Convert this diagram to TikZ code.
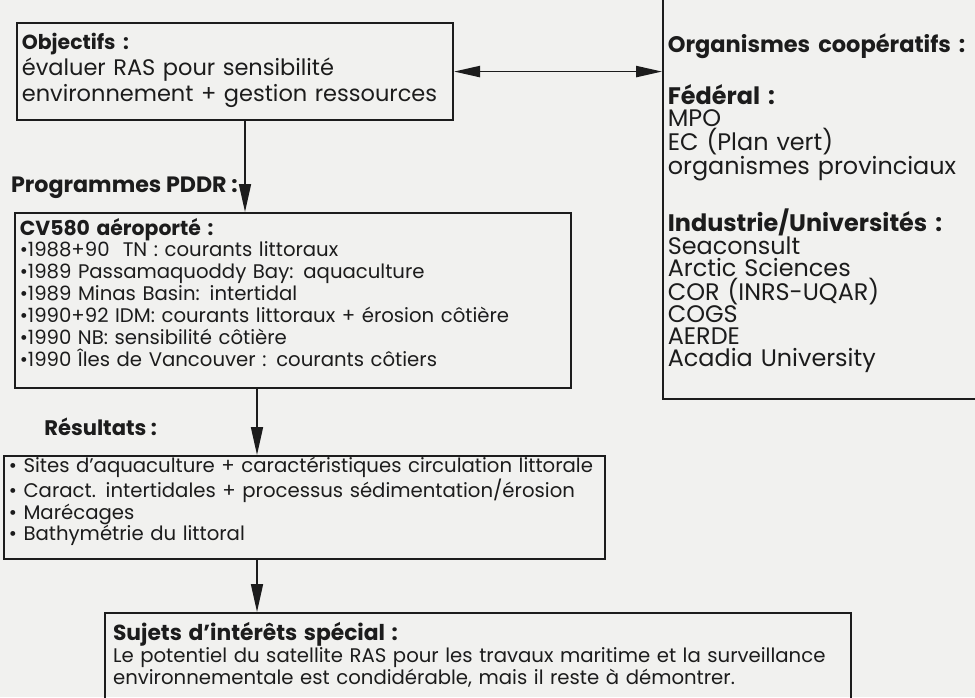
\documentclass[tikz,border=0pt]{standalone}
\usepackage{fontspec}
\setmainfont{Poppins}
\usetikzlibrary{arrows.meta}
\definecolor{paper}{RGB}{241,241,239}
\definecolor{ink}{RGB}{28,28,28}
\tikzset{
  box/.style={draw=ink,text=ink,line width=1.5pt,anchor=north west,align=left,inner xsep=.12cm,inner ysep=0pt},
  arr/.style={draw=ink,line width=1.2pt,-{Triangle[length=.7cm,width=.3cm]}},
  arrboth/.style={draw=ink,line width=1.2pt,{Triangle[length=.65cm,width=.28cm]}-{Triangle[length=.65cm,width=.28cm]}},
  lbl/.style={text=ink,inner sep=0pt,font=\bfseries},
}
\begin{document}
\begin{tikzpicture}
  \fill[paper] (0,0) rectangle (24.375,-17.425);
  \useasboundingbox (0,0) rectangle (24.375,-17.425);
  \node[box,text width=10.66cm,text height=.65cm,text depth=1.775cm,font=\fontsize{16}{18.5}\selectfont] (obj) at (.4,-.55)
  {\textbf{\fontsize{14.5}{18.5}\selectfont Objectifs :}\\évaluer RAS pour sensibilité\\environnement + gestion ressources};
  \node[box,text width=8.08cm,text height=1.575cm,text depth=8.675cm,font=\fontsize{17}{15.6}\selectfont] (org) at (16.55,.3)
  {\textbf{\fontsize{16}{15.6}\selectfont Organismes coopératifs :}\\[.62cm]
   \textbf{Fédéral :}\\MPO\\EC (Plan vert)\\organismes provinciaux\\[.66cm]
   \textbf{Industrie/Universités :}\\Seaconsult\\Arctic Sciences\\COR (INRS-UQAR)\\COGS\\AERDE\\Acadia University};
  \node[lbl,anchor=east,font=\bfseries\fontsize{15.8}{18}\selectfont] (prog) at (5.95,-4.7) {Programmes PDDR :};
  \node[box,text width=13.66cm,text height=.55cm,text depth=3.825cm,font=\fontsize{14}{15.6}\selectfont] (cv) at (.35,-5.3)
  {\textbf{\fontsize{14.5}{15.6}\selectfont CV580 aéroporté :}\\
   •1988+90 \ TN : courants littoraux\\
   •1989 Passamaquoddy Bay: aquaculture\\
   •1989 Minas Basin: intertidal\\
   •1990+92 IDM: courants littoraux + érosion côtière\\
   •1990 NB: sensibilité côtière\\
   •1990 Îles de Vancouver : courants côtiers};
  \node[lbl,anchor=west,font=\bfseries\fontsize{15}{16}\selectfont] (resl) at (1.1,-10.68) {Résultats :};
  \node[box,text width=14.785cm,text height=.4cm,text depth=2.175cm,font=\fontsize{14}{15.6}\selectfont] (res) at (.075,-11.375)
  {• Sites d'aquaculture + caractéristiques circulation littorale\\
   • Caract. intertidales + processus sédimentation/érosion\\
   • Marécages\\
   • Bathymétrie du littoral};
  \node[box,inner xsep=.2cm,text width=18.25cm,text height=.675cm,text depth=3cm,font=\fontsize{14}{14.5}\selectfont] (suj) at (2.6,-15.3)
  {\textbf{\fontsize{15.5}{14.5}\selectfont Sujets d'intérêts spécial :}\\
   Le potentiel du satellite RAS pour les travaux maritime et la surveillance\\
   environnementale est condidérable, mais il reste à démontrer.};
  \draw[arrboth] (obj.east) -- (obj.east -| org.west);
  \draw[arr] (6.125,0 |- obj.south) -- (6.125,0 |- cv.north);
  \draw[arr] (6.425,0 |- cv.south) -- (6.425,0 |- res.north);
  \draw[arr] (6.425,0 |- res.south) -- (6.425,0 |- suj.north);
\end{tikzpicture}
\end{document}
